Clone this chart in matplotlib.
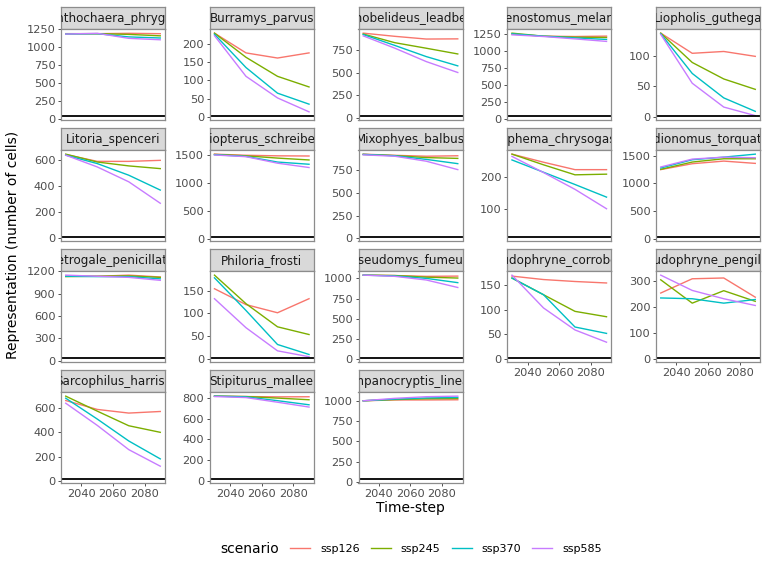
import matplotlib
matplotlib.use("Agg")
import matplotlib.pyplot as plt
from matplotlib.lines import Line2D

years = [2030, 2050, 2070, 2090]
scenarios = ["ssp126", "ssp245", "ssp370", "ssp585"]
colors = ["#F8766D", "#7CAE00", "#00BFC4", "#C77CFF"]

species = ["Anthochaera_phrygia", "Burramys_parvus", "Gymnobelideus_leadbeateri",
           "Lichenostomus_melanops", "Liopholis_guthega", "Litoria_spenceri",
           "Miniopterus_schreibersii", "Mixophyes_balbus", "Neophema_chrysogaster",
           "Pedionomus_torquatus", "Petrogale_penicillata", "Philoria_frosti",
           "Pseudomys_fumeus", "Pseudophryne_corroboree", "Pseudophryne_pengilleyi",
           "Sarcophilus_harrisii", "Stipiturus_mallee", "Tympanocryptis_lineata"]

# cells per species, one list per scenario
ssp126 = [[1185, 1185, 1190, 1185], [229, 175, 161, 175], [935, 900, 870, 872],
          [1245, 1215, 1210, 1216], [137, 104, 107, 99], [645, 592, 592, 600],
          [1510, 1490, 1480, 1477], [928, 915, 905, 910], [271, 246, 223, 223],
          [1249, 1355, 1402, 1361], [1140, 1135, 1150, 1125], [154, 119, 101, 132],
          [1040, 1035, 1025, 1028], [169, 162, 158, 155], [254, 309, 312, 238],
          [662, 589, 559, 572], [819, 815, 812, 813], [1000, 1010, 1010, 1012]]
ssp245 = [[1185, 1185, 1175, 1155], [229, 163, 111, 82], [925, 830, 769, 706],
          [1260, 1215, 1200, 1196], [137, 89, 62, 45], [648, 587, 557, 536],
          [1505, 1480, 1440, 1407], [925, 912, 890, 881], [271, 238, 207, 209],
          [1254, 1385, 1444, 1444], [1130, 1135, 1140, 1120], [184, 121, 70, 53],
          [1040, 1035, 1015, 1004], [165, 131, 97, 86], [305, 215, 263, 222],
          [698, 575, 455, 401], [819, 815, 800, 784], [1000, 1015, 1025, 1028]]
ssp370 = [[1180, 1185, 1140, 1125], [226, 135, 65, 35], [920, 800, 677, 575],
          [1250, 1215, 1190, 1167], [136, 71, 31, 9], [640, 575, 485, 370],
          [1500, 1470, 1370, 1331], [925, 910, 870, 823], [253, 215, 177, 138],
          [1278, 1426, 1473, 1527], [1135, 1130, 1130, 1100], [178, 106, 31, 9],
          [1040, 1030, 1000, 947], [165, 131, 65, 52], [235, 232, 215, 229],
          [681, 510, 330, 183], [819, 812, 775, 735], [1000, 1020, 1035, 1041]]
ssp585 = [[1180, 1190, 1120, 1100], [222, 111, 52, 14], [905, 770, 622, 502],
          [1235, 1210, 1175, 1138], [135, 55, 16, 2], [640, 549, 434, 268],
          [1495, 1465, 1350, 1273], [920, 905, 850, 757], [264, 214, 162, 102],
          [1296, 1438, 1473, 1462], [1150, 1135, 1120, 1080], [132, 68, 17, 4],
          [1040, 1025, 980, 887], [171, 104, 59, 34], [323, 264, 232, 206],
          [640, 458, 259, 123], [815, 805, 760, 713], [1000, 1030, 1050, 1057]]

# black reference line per species
threshold = [41, 3, 25, 39, 1.6, 8, 46, 15, 15, 41, 36, 1.5, 16, 2, 4, 19, 16, 40]

yticks = [[0, 250, 500, 750, 1000, 1250], [0, 50, 100, 150, 200], [0, 250, 500, 750],
          [0, 250, 500, 750, 1000, 1250], [0, 50, 100], [0, 200, 400, 600],
          [0, 500, 1000, 1500], [0, 250, 500, 750], [100, 200],
          [0, 500, 1000, 1500], [0, 300, 600, 900, 1200], [0, 50, 100, 150],
          [0, 250, 500, 750, 1000], [0, 50, 100, 150], [0, 100, 200, 300],
          [0, 200, 400, 600], [0, 200, 400, 600, 800], [0, 250, 500, 750, 1000]]
xticks = [2040, 2060, 2080]

W, H = 768, 576
fig = plt.figure(figsize=(W / 100, H / 100), dpi=100)


def px_axes(left, top, w, h):
    return fig.add_axes([left / W, 1 - (top + h) / H, w / W, h / H])


series = [ssp126, ssp245, ssp370, ssp585]
bottom_panels = [13, 14, 15, 16, 17]
border = "#8C8C8C"

for i, name in enumerate(species):
    r, c = i // 5, i % 5
    left = 61 + 148.75 * c
    stop = 7 + 121 * r

    # strip
    sax = px_axes(left, stop, 104, 22)
    sax.set_facecolor("#D9D9D9")
    sax.set_xticks([])
    sax.set_yticks([])
    for s in sax.spines.values():
        s.set_color(border)
        s.set_linewidth(0.9)
    sax.text(0.5, 0.47, name, ha="center", va="center", fontsize=8.6,
             color="#1A1A1A", transform=sax.transAxes, clip_on=True)

    ax = px_axes(left, stop + 22, 104, 91)
    for k, sc in enumerate(series):
        ax.plot(years, sc[i], color=colors[k], lw=1.0)
    ax.axhline(threshold[i], color="black", lw=1.3)

    vals = [v for sc in series for v in sc[i]]
    lo = min(min(vals), threshold[i])
    hi = max(vals)
    pad = 0.05 * (hi - lo)
    ax.set_ylim(lo - pad, hi + pad)
    ax.set_xlim(2027, 2093)
    ax.set_yticks(yticks[i])
    ax.set_xticks(xticks)
    for s in ax.spines.values():
        s.set_color(border)
        s.set_linewidth(0.9)
    ax.tick_params(axis="both", labelsize=8.2, labelcolor="#4D4D4D", color="#333333",
                   length=2.5, width=0.6, pad=1.5)
    if i not in bottom_panels:
        ax.tick_params(axis="x", bottom=False, labelbottom=False)

fig.text(410 / W, 1 - 508 / H, "Time-step", ha="center", va="center", fontsize=10)
fig.text(13 / W, 1 - 245 / H, "Representation (number of cells)", ha="center",
         va="center", rotation=90, fontsize=10)

fig.text(220 / W, 1 - 549 / H, "scenario", ha="left", va="center", fontsize=10)
handles = [Line2D([], [], color=col, lw=1.0) for col in colors]
fig.legend(handles, scenarios, loc="center", bbox_to_anchor=(446 / W, 1 - 549 / H),
           ncol=4, frameon=False, fontsize=8, handlelength=1.8, handletextpad=0.9,
           columnspacing=1.0)

fig.savefig("out.png", dpi=100)
